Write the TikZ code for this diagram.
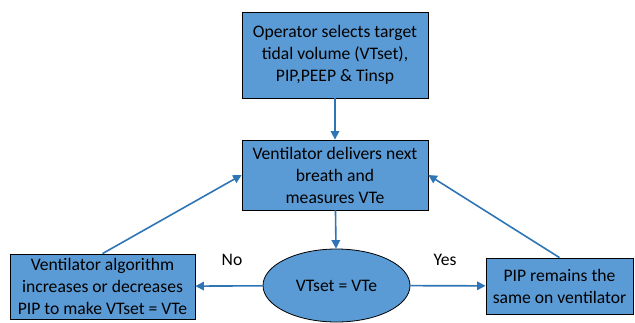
\documentclass[tikz,border=0pt]{standalone}
\usepackage{fontspec}
\setmainfont{Carlito}
\usetikzlibrary{shapes.geometric,arrows.meta}

\definecolor{cajaazul}{HTML}{5B9BD5}
\definecolor{flechaazul}{HTML}{2E75B6}

\tikzset{
  caja/.style={draw=black, thick, fill=cajaazul, align=center, inner sep=2pt,
    font=\fontsize{17.6}{22}\selectfont},
  decision/.style={ellipse, draw=black, thick, fill=cajaazul, inner sep=0pt,
    font=\fontsize{17.6}{22}\selectfont},
  flecha/.style={draw=flechaazul, line width=1.6pt, -{Triangle[length=8.5pt,width=8.5pt]}},
  etiqueta/.style={font=\fontsize{17.6}{22}\selectfont}
}

\begin{document}
\begin{tikzpicture}[x=1pt, y=-1pt]
    \useasboundingbox (0,0) rectangle (635,322);
    % Cajas del diagrama
    \node[caja, minimum width=186pt, minimum height=86pt] (operador) at (335,55)
        {Operator selects target\\tidal volume (VTset),\\PIP,PEEP \& Tinsp};
    \node[caja, minimum width=186pt, minimum height=70pt] (ventilador) at (335,175)
        {Ventilator delivers next\\breath and\\measures VTe};
    \node[decision, minimum width=147pt, minimum height=73pt] (comparar) at (336.5,285.5)
        {VTset = VTe};
    \node[caja, minimum width=185pt, minimum height=65pt] (algoritmo) at (102.5,286.5)
        {Ventilator algorithm\\increases or decreases\\PIP to make VTset = VTe};
    \node[caja, minimum width=147pt, minimum height=56pt] (mantiene) at (559.5,286)
        {PIP remains the\\same on ventilator};
    % Etiquetas de las ramas
    \node[etiqueta] (no) at (232,260) {No};
    \node[etiqueta] (si) at (445,260) {Yes};
    % Flechas
    \draw[flecha] (operador) -- (ventilador);
    \draw[flecha] (ventilador) -- (comparar);
    \draw[flecha] (comparar) -- (algoritmo);
    \draw[flecha] (comparar) -- (mantiene);
    \draw[flecha] (algoritmo.north) -- (ventilador.west);
    \draw[flecha] (mantiene.north) -- (ventilador.east);
\end{tikzpicture}
\end{document}
